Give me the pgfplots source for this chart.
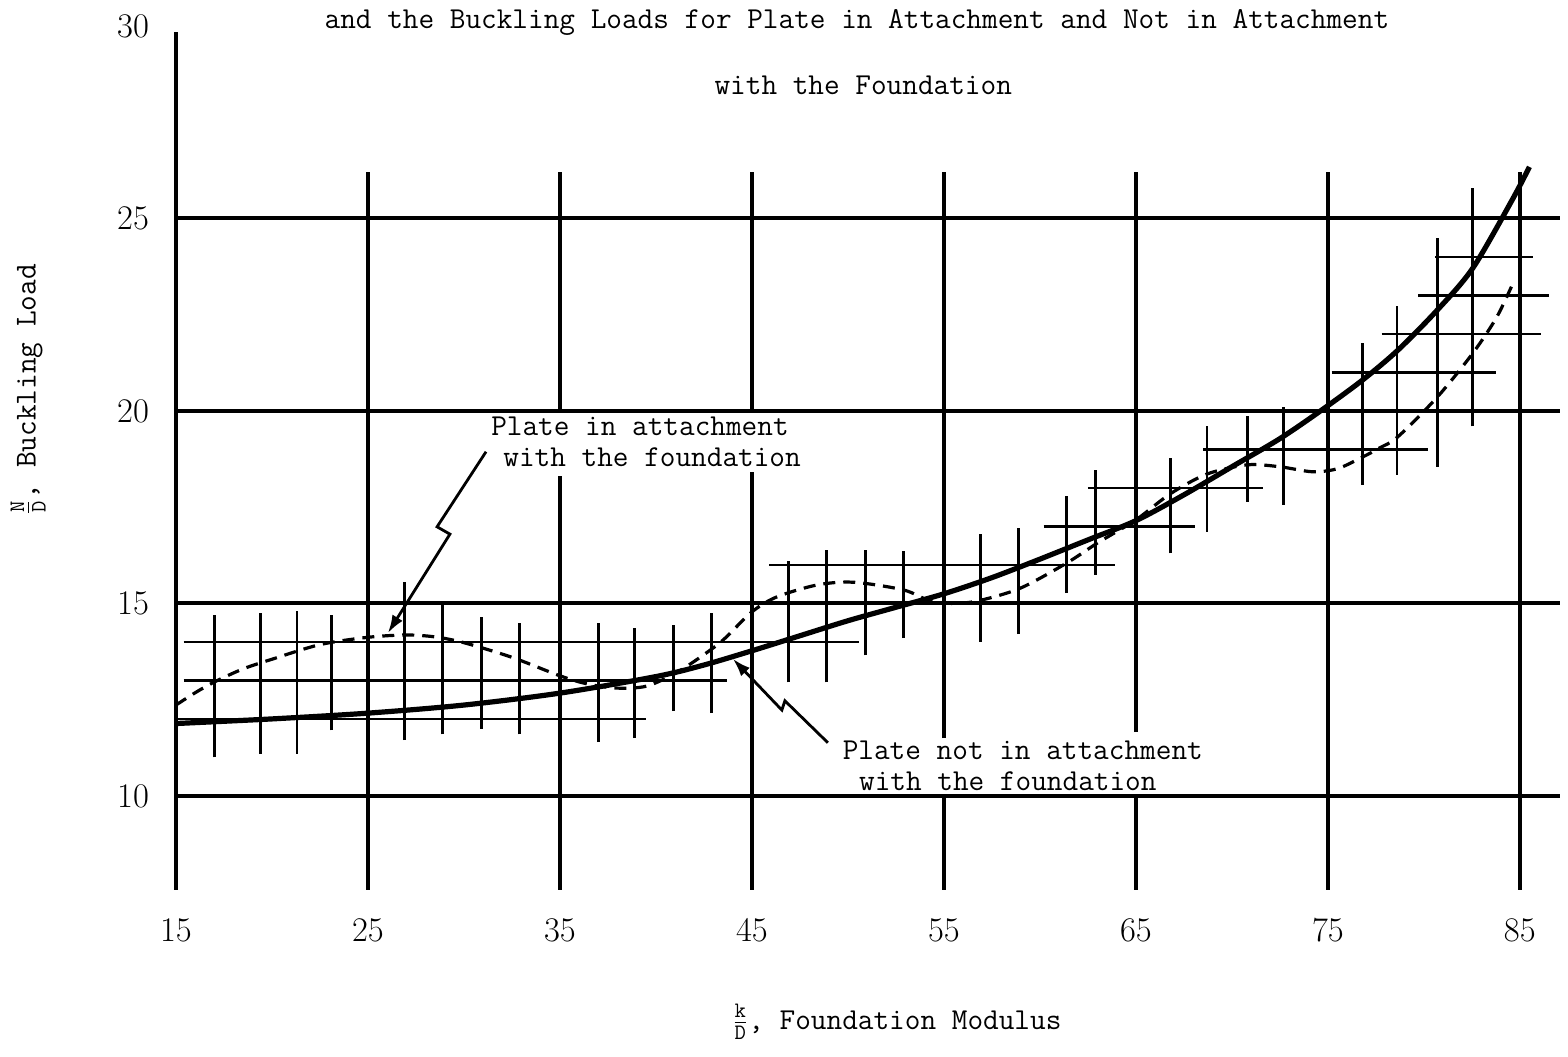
\documentclass[border=0pt]{standalone}
\usepackage{fontspec}
\usepackage{pgfplots}
\pgfplotsset{compat=1.18}
\usetikzlibrary{arrows.meta}
\newcommand{\tw}{\fontsize{15.2}{18}\selectfont\ttfamily}
\newcommand{\fr}[2]{$\frac{\mbox{\fontsize{11}{12}\selectfont\ttfamily #1}}{\mbox{\fontsize{11}{12}\selectfont\ttfamily #2}}$}
\begin{document}
\begin{tikzpicture}
\begin{axis}[
  scale only axis, width=696pt, height=433.125pt,
  xmin=15, xmax=87.5, ymin=7.5, ymax=30,
  axis line style={draw=none},
  major tick length=0pt,
  xtick={15,25,...,85}, ytick={10,15,20,25,30},
  xticklabel style={anchor=center, yshift=-19pt, font=\fontsize{16}{19}\selectfont},
  yticklabel style={anchor=east, xshift=-10pt, font=\fontsize{16}{19}\selectfont},
  clip=false,
  unbounded coords=jump,
]
% main vertical grid lines (broken where the notes are typed)
\addplot[black, line width=2pt] coordinates {
 (15,7.56) (15,29.84) (15,nan)
 (25,7.56) (25,26.2) (25,nan)
 (35,7.56) (35,18.3) (35,nan) (35,20) (35,26.2) (35,nan)
 (45,7.56) (45,18.42) (45,nan) (45,20) (45,26.2) (45,nan)
 (55,7.56) (55,10) (55,nan) (55,11.5) (55,26.2) (55,nan)
 (65,7.56) (65,10) (65,nan) (65,11.66) (65,26.2) (65,nan)
 (75,7.56) (75,26.2) (75,nan)
 (85,7.56) (85,26.2)
};
% main horizontal grid lines
\addplot[black, line width=2pt] coordinates {
 (15,10) (87.1,10) (87.1,nan)
 (15,15) (87.1,15) (87.1,nan)
 (15,20) (87.1,20) (87.1,nan)
 (15,25) (87.1,25)
};
% short vertical cross lines
\addplot[black, line width=1.4pt] coordinates {
 (17.0,11.0) (17.0,14.7) (17.0,nan)
 (19.4,11.1) (19.4,14.75) (19.4,nan)
 (21.3,11.1) (21.3,14.8) (21.3,nan)
 (23.1,11.7) (23.1,14.7) (23.1,nan)
 (26.9,11.45) (26.9,15.55) (26.9,nan)
 (28.9,11.6) (28.9,15.0) (28.9,nan)
 (30.9,11.75) (30.9,14.65) (30.9,nan)
 (32.9,11.6) (32.9,14.5) (32.9,nan)
 (37.0,11.4) (37.0,14.5) (37.0,nan)
 (38.9,11.5) (38.9,14.35) (38.9,nan)
 (40.9,12.2) (40.9,14.45) (40.9,nan)
 (42.9,12.15) (42.9,14.75) (42.9,nan)
 (46.9,12.95) (46.9,16.1) (46.9,nan)
 (48.9,12.95) (48.9,16.4) (48.9,nan)
 (50.9,13.65) (50.9,16.4) (50.9,nan)
 (52.9,14.1) (52.9,16.35) (52.9,nan)
 (56.9,14.0) (56.9,16.8) (56.9,nan)
 (58.9,14.2) (58.9,16.95) (58.9,nan)
 (61.4,15.27) (61.4,17.8) (61.4,nan)
 (62.9,15.74) (62.9,18.47) (62.9,nan)
 (66.8,16.3) (66.8,18.78) (66.8,nan)
 (68.7,16.86) (68.7,19.6) (68.7,nan)
 (70.8,17.64) (70.8,19.87) (70.8,nan)
 (72.7,17.56) (72.7,20.1) (72.7,nan)
 (76.8,18.08) (76.8,21.77) (76.8,nan)
 (78.6,18.34) (78.6,22.73) (78.6,nan)
 (80.7,18.55) (80.7,24.5) (80.7,nan)
 (82.55,19.6) (82.55,25.8)
};
% short horizontal cross lines
\addplot[black, line width=1.4pt] coordinates {
 (15.0,12) (39.5,12) (39.5,nan)
 (15.4,13) (43.7,13) (43.7,nan)
 (15.4,14) (50.6,14) (50.6,nan)
 (45.9,16) (63.9,16) (63.9,nan)
 (60.2,17) (68.1,17) (68.1,nan)
 (62.5,18) (71.6,18) (71.6,nan)
 (68.5,19) (80.2,19) (80.2,nan)
 (75.2,21) (83.75,21) (83.75,nan)
 (77.8,22) (86.1,22) (86.1,nan)
 (79.7,23) (86.5,23) (86.5,nan)
 (80.6,24) (85.7,24)
};
% plate not in attachment (solid)
\addplot[black, line width=2.6pt, smooth] coordinates {
 (15,11.88) (20,12.0) (25,12.15) (30,12.36) (35,12.67) (40,13.1)
 (42.5,13.4) (45,13.77) (47.5,14.16) (50,14.55) (52.5,14.9) (55,15.25)
 (57.5,15.67) (60,16.15) (62.5,16.65) (65,17.15) (67.5,17.82) (70,18.55)
 (72.5,19.28) (74.7,20.03) (76.8,20.8) (78.65,21.58) (80.7,22.62)
 (82.55,23.71) (84.6,25.48) (85.5,26.34)
};
% plate in attachment (dashed)
\addplot[black, line width=1.6pt, smooth, dash pattern=on 6pt off 4pt] coordinates {
 (15,12.36) (16,12.68) (17,12.96) (18.5,13.3) (20,13.55) (22.5,13.93)
 (25,14.12) (27,14.18) (28.5,14.13) (30,13.98) (32.5,13.6) (35,13.12)
 (36.5,12.9) (38,12.8) (39.5,12.85) (41,13.18) (42.3,13.6) (43.5,14.05)
 (45,14.78) (46.3,15.17) (48.4,15.48) (50.3,15.55) (52.9,15.35) (54.3,15.06)
 (55.6,15.0) (56.9,15.08) (59,15.4) (61.4,16.05) (63,16.57) (65,17.17)
 (66.8,17.85) (68.7,18.36) (70.8,18.6) (72.5,18.55) (74.2,18.42) (75.5,18.5)
 (76.8,18.8) (77.7,19.04) (78.65,19.33) (80.7,20.36) (82.55,21.5)
 (83.8,22.44) (84.7,23.38)
};
% annotation arrows
\addplot[black, line width=1.4pt, -{Latex[length=9pt,width=6pt]}] coordinates {
 (31.15,18.94) (28.6,16.99) (29.27,16.8) (26.04,14.23)
};
\addplot[black, line width=1.4pt, -{Latex[length=9pt,width=6pt]}] coordinates {
 (48.96,11.38) (46.72,12.47) (46.56,12.23) (44.01,13.56)
};
% texts
\node[font=\tw] at (axis cs:50.47,30.1) {and the Buckling Loads for Plate in Attachment and Not in Attachment};
\node[font=\tw] at (axis cs:50.8,28.47) {with the Foundation};
\coordinate (a1) at (axis cs:39.17,19.61);
\coordinate (a2) at (axis cs:39.8,18.81);
\coordinate (b1) at (axis cs:59.11,11.19);
\coordinate (b2) at (axis cs:58.33,10.39);
\node[font=\tw, rotate=90] at (axis cs:7.3,20.55) {\fr{N}{D}, Buckling Load};
\node[font=\tw] at (axis cs:52.55,4.13) {\fr{k}{D}, Foundation Modulus};
\end{axis}
\node[font=\tw, fill=white, inner sep=1pt] at (a1) {Plate in attachment};
\node[font=\tw, fill=white, inner sep=1pt] at (a2) {with the foundation};
\node[font=\tw, fill=white, inner sep=1pt] at (b1) {Plate not in attachment};
\node[font=\tw, fill=white, inner sep=0.5pt] at (b2) {with the foundation};
\path ([shift={(-88pt,-82pt)}]current axis.south west) rectangle ([shift={(0pt,13pt)}]current axis.north east);
\end{tikzpicture}
\end{document}
